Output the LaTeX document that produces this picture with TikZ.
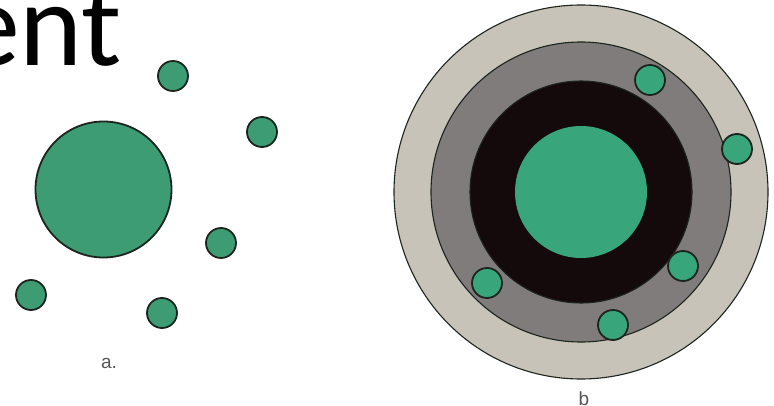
\documentclass[tikz,border=0pt]{standalone}
\usepackage{fontspec}
\newfontfamily\carlito{Carlito}
\setmainfont{Liberation Sans}
\definecolor{gleft}{RGB}{62,156,116}
\definecolor{gright}{RGB}{56,165,122}
\definecolor{tanring}{RGB}{200,195,184}
\definecolor{grayring}{RGB}{128,124,124}
\definecolor{blackcore}{RGB}{20,10,12}
\definecolor{edgedark}{RGB}{28,36,30}
\definecolor{labelgray}{RGB}{85,85,85}
\tikzset{
  electron/.style={circle, draw=edgedark, line width=1.8pt, fill=#1, minimum size=30pt, inner sep=0pt},
  ringline/.style={draw=edgedark, line width=1.1pt},
  lbl/.style={font=\fontsize{19}{19}\selectfont, text=labelgray, inner sep=0pt}
}
\begin{document}
\begin{tikzpicture}[x=1pt,y=-1pt]
\useasboundingbox (0,0) rectangle (774,406);
% title fragment
\node[anchor=base west, inner sep=0pt, font=\carlito\fontsize{120}{120}\selectfont] (title) at (-40,66) {ent};
% panel a
\node[circle, draw=edgedark, line width=1.8pt, fill=gleft, minimum size=136pt, inner sep=0pt] (nucA) at (103.5,189.5) {};
\node[electron=gleft] (a1) at (173,76) {};
\node[electron=gleft] (a2) at (262,132) {};
\node[electron=gleft] (a3) at (221,243) {};
\node[electron=gleft] (a4) at (31,295) {};
\node[electron=gleft] (a5) at (162,313) {};
\node[lbl, anchor=base] (la) at (109,368) {a.};
% panel b
\coordinate (c) at (581,192);
\filldraw[ringline, fill=tanring] (c) circle[radius=187];
\filldraw[ringline, fill=grayring] (c) circle[radius=150];
\filldraw[ringline, fill=blackcore] (c) circle[radius=111];
\node[circle, fill=gright, minimum size=132pt, inner sep=0pt] (nucB) at (c) {};
\node[electron=gright] (b1) at (650,80) {};
\node[electron=gright] (b2) at (737,149) {};
\node[electron=gright] (b3) at (487,283) {};
\node[electron=gright] (b4) at (683,266) {};
\node[electron=gright] (b5) at (613,325) {};
\node[lbl, anchor=base] (lb) at (584,405) {b};
\end{tikzpicture}
\end{document}
